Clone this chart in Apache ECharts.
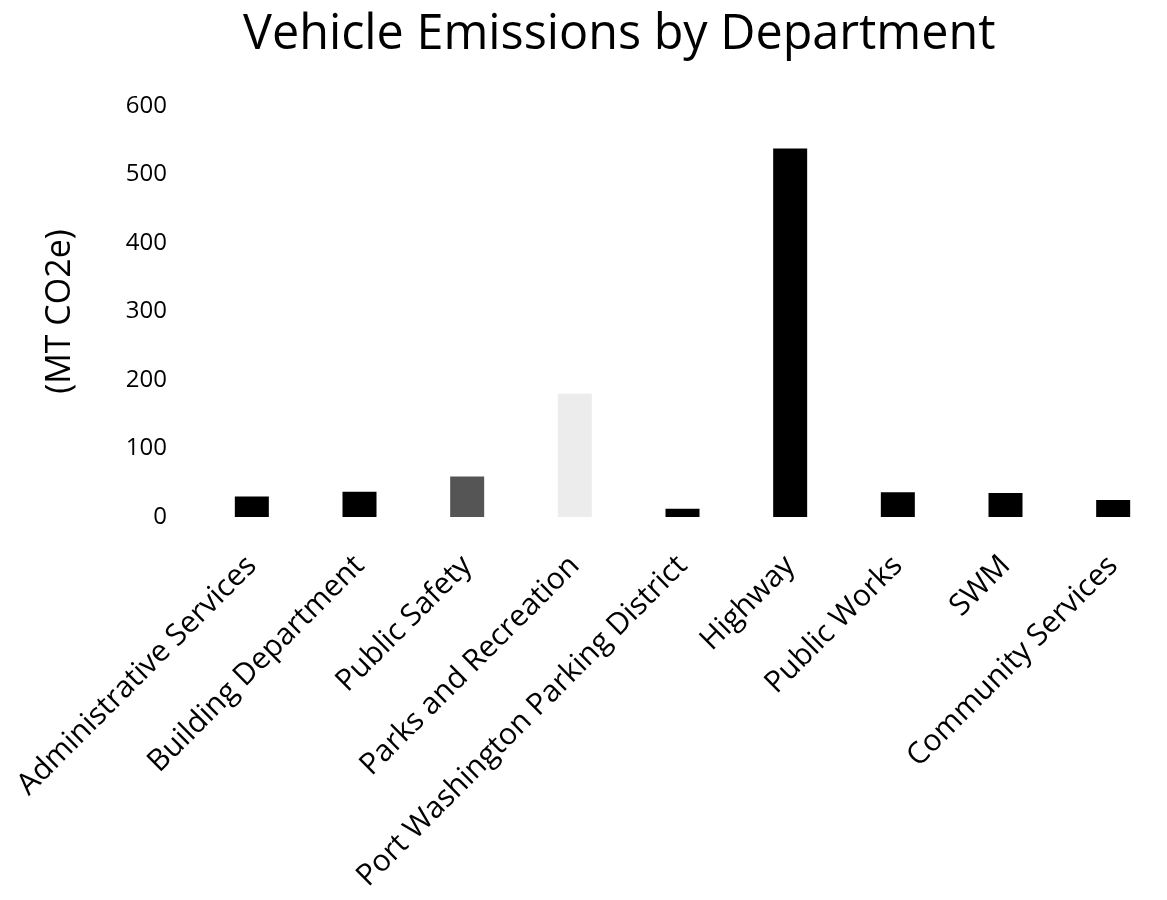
<!DOCTYPE html>
<html>
<head>
<meta charset="utf-8">
<script src="https://cdn.jsdelivr.net/npm/echarts@6/dist/echarts.min.js"></script>
<style>html,body{margin:0;padding:0;background:#fff}#c{width:1167px;height:900px}</style>
</head>
<body>
<div id="c"></div>
<script>
const categories = ["Administrative Services","Building Department","Public Safety","Parks and Recreation","Port Washington Parking District","Highway","Public Works","SWM","Community Services"];
const values = [30, 37, 59, 180, 12, 538, 36, 35, 25];
const barColors = ["#000000","#000000","#555555","#ececec","#000000","#000000","#000000","#000000","#000000"];
const yTicks = [0, 100, 200, 300, 400, 500, 600];

const FONT = "Open Sans";
const chart = echarts.init(document.getElementById('c'));
chart.setOption({
  backgroundColor: '#ffffff',
  animation: false,
  title: {
    text: 'Vehicle Emissions by Department',
    left: 238, top: 6,
    textStyle: {fontFamily: FONT, fontSize: 48.5, fontWeight: 'normal', color: '#000'}
  },
  grid: {left: 198, right: -36, top: 106, bottom: 383, containLabel: false},
  xAxis: {
    type: 'category',
    data: categories,
    axisLine: {show: false},
    axisTick: {show: false},
    axisLabel: {rotate: 45, margin: 44, interval: 0, fontFamily: FONT, fontSize: 30, color: '#000'}
  },
  yAxis: {
    type: 'value',
    min: yTicks[0], max: yTicks[yTicks.length-1], interval: 100,
    name: '(MT CO2e)',
    nameLocation: 'middle',
    nameRotate: 90,
    nameGap: 121,
    nameTextStyle: {fontFamily: FONT, fontSize: 34, color: '#000'},
    axisLine: {show: false},
    axisTick: {show: false},
    splitLine: {show: false},
    axisLabel: {margin: 31, fontFamily: FONT, fontSize: 24, color: '#000'}
  },
  series: [{
    type: 'bar',
    data: values.map((v, i) => ({value: v, itemStyle: {color: barColors[i]}})),
    barWidth: 34
  }]
});
</script>
</body>
</html>
